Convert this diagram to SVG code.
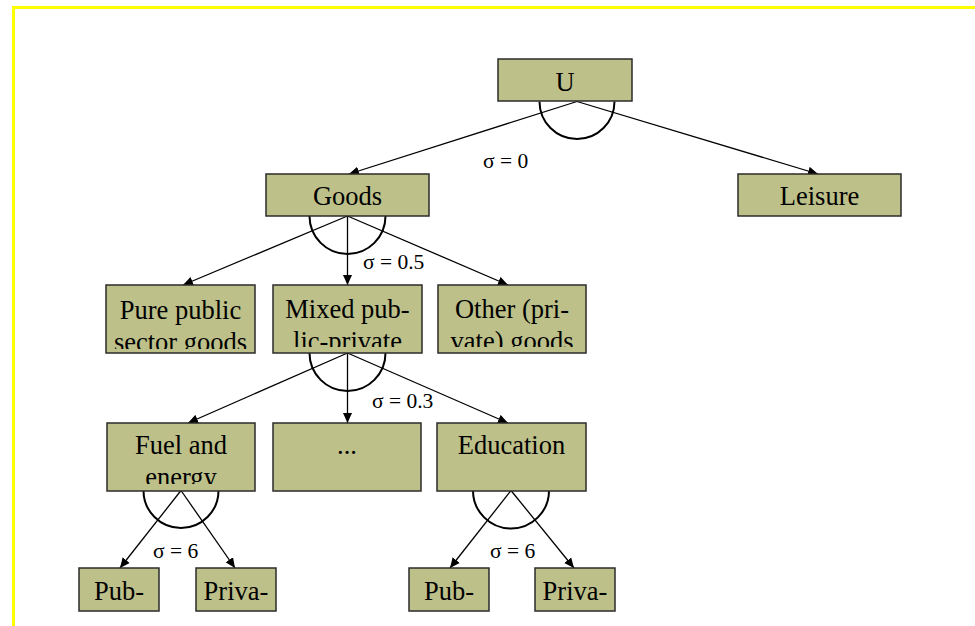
<svg xmlns="http://www.w3.org/2000/svg" width="975" height="626" viewBox="0 0 975 626">
<style>
.box{fill:#BDC089;stroke:#2b2b2b;stroke-width:1.5}
text{font-family:'Liberation Serif', 'DejaVu Serif', serif;fill:#000}
.t{font-size:26.5px;text-anchor:middle}
.s{font-size:21.5px}
.ln{stroke:#000;stroke-width:1.3;fill:none}
.arc{stroke:#000;stroke-width:2;fill:none}
</style>
<defs>
<marker id="ah" viewBox="0 0 10 10" refX="10" refY="5" markerWidth="10" markerHeight="10" markerUnits="userSpaceOnUse" orient="auto">
<path d="M0,0.5 L10,5 L0,9.5 z" fill="#000"/>
</marker>
<clipPath id="c1"><rect x="106" y="285" width="149" height="64"/></clipPath>
<clipPath id="c2"><rect x="273" y="285" width="149" height="62"/></clipPath>
<clipPath id="c3"><rect x="438" y="285" width="148" height="62"/></clipPath>
<clipPath id="c4"><rect x="107" y="423" width="148" height="61"/></clipPath>
</defs>
<rect width="975" height="626" fill="#fff"/>
<path d="M13.5,626 V7.5 H975" fill="none" stroke="#FFFF00" stroke-width="3"/>

<g id="connectors">
<line class="ln" x1="577" y1="101.5" x2="349" y2="174" marker-end="url(#ah)"/>
<line class="ln" x1="577" y1="101.5" x2="818" y2="174" marker-end="url(#ah)"/>
<path class="arc" d="M539.5,101.5 A37.5,37.5 0 0 0 614.5,101.5"/>
<line class="ln" x1="347.5" y1="216" x2="183" y2="285" marker-end="url(#ah)"/>
<line class="ln" x1="347.5" y1="216" x2="347.5" y2="285" marker-end="url(#ah)"/>
<line class="ln" x1="347.5" y1="216" x2="508" y2="285" marker-end="url(#ah)"/>
<path class="arc" d="M309.5,216 A38,38 0 0 0 385.5,216"/>
<line class="ln" x1="347.5" y1="353" x2="188" y2="423" marker-end="url(#ah)"/>
<line class="ln" x1="347.5" y1="353" x2="347.5" y2="423" marker-end="url(#ah)"/>
<line class="ln" x1="347.5" y1="353" x2="508" y2="423" marker-end="url(#ah)"/>
<path class="arc" d="M309.5,353 A38,38 0 0 0 385.5,353"/>
<line class="ln" x1="181" y1="490.5" x2="120" y2="568" marker-end="url(#ah)"/>
<line class="ln" x1="181" y1="490.5" x2="235" y2="568" marker-end="url(#ah)"/>
<path class="arc" d="M143.5,490.5 A37.5,37.5 0 0 0 218.5,490.5"/>
<line class="ln" x1="511" y1="490.5" x2="450" y2="568" marker-end="url(#ah)"/>
<line class="ln" x1="511" y1="490.5" x2="574" y2="568" marker-end="url(#ah)"/>
<path class="arc" d="M473,490.5 A38,38 0 0 0 549,490.5"/>
<text class="s" x="483" y="168">σ = 0</text>
<text class="s" x="363" y="269">σ = 0.5</text>
<text class="s" x="372" y="408">σ = 0.3</text>
<text class="s" x="153" y="558">σ = 6</text>
<text class="s" x="490" y="558">σ = 6</text>
</g>

<g id="node-u"><rect class="box" x="498" y="59" width="134" height="42"/><text class="t" x="565" y="91">U</text></g>
<g id="node-goods"><rect class="box" x="266" y="174" width="163" height="42"/><text class="t" x="347.5" y="205">Goods</text></g>
<g id="node-leisure"><rect class="box" x="738" y="174" width="163" height="42"/><text class="t" x="819.5" y="205">Leisure</text></g>
<g id="node-pure"><rect class="box" x="106" y="285" width="149" height="68"/><g clip-path="url(#c1)"><text class="t" x="180.5" y="319">Pure public</text><text class="t" x="180.5" y="351">sector goods</text></g></g>
<g id="node-mixed"><rect class="box" x="273" y="285" width="149" height="68"/><g clip-path="url(#c2)"><text class="t" x="347.5" y="318">Mixed pub-</text><text class="t" x="347.5" y="350">lic-private</text></g></g>
<g id="node-other"><rect class="box" x="438" y="285" width="148" height="68"/><g clip-path="url(#c3)"><text class="t" x="512" y="318">Other (pri-</text><text class="t" x="512" y="350">vate) goods</text></g></g>
<g id="node-fuel"><rect class="box" x="107" y="423" width="148" height="68"/><g clip-path="url(#c4)"><text class="t" x="181" y="454">Fuel and</text><text class="t" x="181" y="486">energy</text></g></g>
<g id="node-dots"><rect class="box" x="273" y="423" width="148" height="68"/><text class="t" x="347" y="454">...</text></g>
<g id="node-education"><rect class="box" x="437" y="423" width="149" height="68"/><text class="t" x="511.5" y="454">Education</text></g>
<g id="node-pub1"><rect class="box" x="79" y="568" width="80" height="43"/><text class="t" x="119" y="600">Pub-</text></g>
<g id="node-priva1"><rect class="box" x="196" y="568" width="80" height="43"/><text class="t" x="236" y="600">Priva-</text></g>
<g id="node-pub2"><rect class="box" x="409" y="568" width="80" height="43"/><text class="t" x="449" y="600">Pub-</text></g>
<g id="node-priva2"><rect class="box" x="535" y="568" width="80" height="43"/><text class="t" x="575" y="600">Priva-</text></g>
</svg>
